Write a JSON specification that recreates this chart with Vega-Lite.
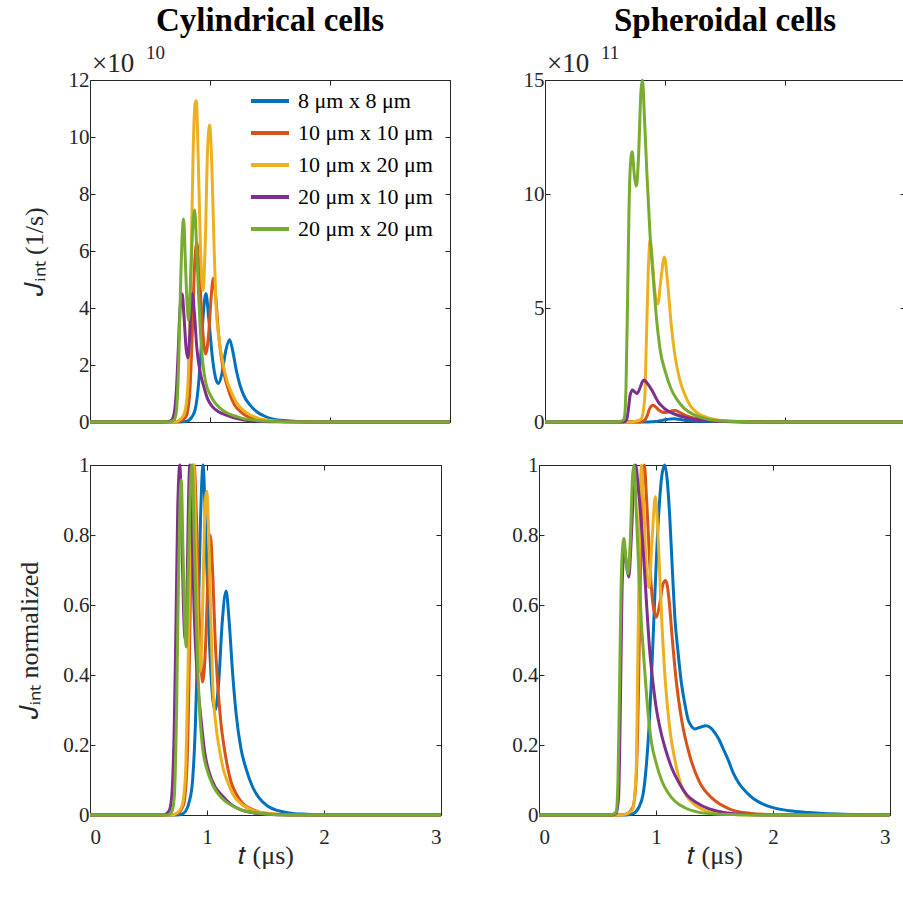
{
  "$schema": "https://vega.github.io/schema/vega-lite/v6.json",
  "padding": {"left": 16, "top": 4, "right": 0, "bottom": 0},
  "background": "white",
  "config": {
    "font": "Liberation Serif",
    "style": {"guide-label": {"font": "Liberation Serif"}, "guide-title": {"font": "Liberation Serif"}},
    "view": {"stroke": "#262626", "strokeWidth": 1},
    "axis": {"labelFont": "Liberation Serif", "labelFontSize": 21, "labelColor": "#262626", "titleFont": "Liberation Serif", "titleFontSize": 26, "titleFontWeight": "normal", "titleColor": "#262626", "grid": false, "domain": false, "tickColor": "#262626", "tickSize": -5, "labelPadding": 6, "titlePadding": 13},
    "axisX": {"labelPadding": 16, "titlePadding": -5},
    "legend": {"orient": "none", "legendX": 159, "legendY": 0, "title": null, "symbolType": "stroke", "symbolStrokeWidth": 4, "symbolSize": 1444, "labelFont": "Liberation Serif", "labelFontSize": 22, "labelColor": "#000000", "rowPadding": -3, "labelOffset": 7, "padding": 0, "labelLimit": 300},
    "title": {"font": "Liberation Serif", "fontSize": 33, "fontWeight": "bold", "color": "#000000", "anchor": "middle", "offset": 6}
  },
  "datasets": {
    "cylAbs": [
      {"s":1,"t":0,"v":0},{"s":1,"t":0.75,"v":0},{"s":1,"t":0.8,"v":0.023},{"s":1,"t":0.85,"v":0.18},{"s":1,"t":0.877,"v":0.45},{"s":1,"t":0.9,"v":1.13},{"s":1,"t":0.92,"v":2.16},{"s":1,"t":0.945,"v":3.83},{"s":1,"t":0.966,"v":4.51},{"s":1,"t":0.99,"v":3.61},{"s":1,"t":1.02,"v":2.26},{"s":1,"t":1.05,"v":1.49},{"s":1,"t":1.07,"v":1.35},{"s":1,"t":1.1,"v":1.71},{"s":1,"t":1.13,"v":2.48},{"s":1,"t":1.163,"v":2.89},{"s":1,"t":1.19,"v":2.48},{"s":1,"t":1.22,"v":1.8},{"s":1,"t":1.25,"v":1.29},{"s":1,"t":1.29,"v":0.86},{"s":1,"t":1.333,"v":0.6},{"s":1,"t":1.39,"v":0.36},{"s":1,"t":1.447,"v":0.22},{"s":1,"t":1.52,"v":0.11},{"s":1,"t":1.6,"v":0.059},{"s":1,"t":1.7,"v":0.027},{"s":1,"t":1.85,"v":0.009},{"s":1,"t":2.0,"v":0},{"s":1,"t":3,"v":0},
      {"s":2,"t":0,"v":0},{"s":2,"t":0.7,"v":0},{"s":2,"t":0.75,"v":0.03},{"s":2,"t":0.8,"v":0.19},{"s":2,"t":0.83,"v":0.95},{"s":2,"t":0.85,"v":2.84},{"s":2,"t":0.87,"v":5.36},{"s":2,"t":0.89,"v":6.3},{"s":2,"t":0.91,"v":5.36},{"s":2,"t":0.935,"v":3.47},{"s":2,"t":0.963,"v":2.39},{"s":2,"t":0.99,"v":3.15},{"s":2,"t":1.01,"v":4.41},{"s":2,"t":1.028,"v":5.04},{"s":2,"t":1.05,"v":4.28},{"s":2,"t":1.07,"v":3.15},{"s":2,"t":1.09,"v":2.39},{"s":2,"t":1.12,"v":1.64},{"s":2,"t":1.148,"v":1.2},{"s":2,"t":1.18,"v":0.82},{"s":2,"t":1.205,"v":0.6},{"s":2,"t":1.25,"v":0.38},{"s":2,"t":1.3,"v":0.22},{"s":2,"t":1.4,"v":0.088},{"s":2,"t":1.5,"v":0.032},{"s":2,"t":1.7,"v":0.006},{"s":2,"t":2.0,"v":0},{"s":2,"t":3,"v":0},
      {"s":3,"t":0,"v":0},{"s":3,"t":0.7,"v":0},{"s":3,"t":0.74,"v":0.056},{"s":3,"t":0.78,"v":0.23},{"s":3,"t":0.8,"v":0.56},{"s":3,"t":0.82,"v":1.69},{"s":3,"t":0.84,"v":5.07},{"s":3,"t":0.86,"v":9.58},{"s":3,"t":0.875,"v":11.16},{"s":3,"t":0.886,"v":11.27},{"s":3,"t":0.9,"v":9.58},{"s":3,"t":0.92,"v":6.2},{"s":3,"t":0.942,"v":4.62},{"s":3,"t":0.96,"v":6.2},{"s":3,"t":0.98,"v":9.58},{"s":3,"t":0.997,"v":10.42},{"s":3,"t":1.015,"v":9.02},{"s":3,"t":1.03,"v":6.76},{"s":3,"t":1.048,"v":4.28},{"s":3,"t":1.075,"v":2.93},{"s":3,"t":1.105,"v":2.14},{"s":3,"t":1.14,"v":1.47},{"s":3,"t":1.176,"v":1.07},{"s":3,"t":1.22,"v":0.68},{"s":3,"t":1.3,"v":0.34},{"s":3,"t":1.4,"v":0.135},{"s":3,"t":1.5,"v":0.056},{"s":3,"t":1.7,"v":0.011},{"s":3,"t":2.0,"v":0},{"s":3,"t":3,"v":0},
      {"s":4,"t":0,"v":0},{"s":4,"t":0.62,"v":0},{"s":4,"t":0.65,"v":0.014},{"s":4,"t":0.68,"v":0.068},{"s":4,"t":0.7,"v":0.27},{"s":4,"t":0.72,"v":1.13},{"s":4,"t":0.735,"v":2.48},{"s":4,"t":0.75,"v":3.96},{"s":4,"t":0.768,"v":4.5},{"s":4,"t":0.785,"v":3.6},{"s":4,"t":0.8,"v":2.61},{"s":4,"t":0.815,"v":2.25},{"s":4,"t":0.83,"v":2.93},{"s":4,"t":0.842,"v":4.05},{"s":4,"t":0.853,"v":4.5},{"s":4,"t":0.87,"v":3.83},{"s":4,"t":0.89,"v":2.61},{"s":4,"t":0.92,"v":1.71},{"s":4,"t":0.95,"v":1.22},{"s":4,"t":0.98,"v":0.81},{"s":4,"t":1.02,"v":0.54},{"s":4,"t":1.07,"v":0.36},{"s":4,"t":1.13,"v":0.25},{"s":4,"t":1.2,"v":0.144},{"s":4,"t":1.28,"v":0.072},{"s":4,"t":1.4,"v":0.027},{"s":4,"t":1.6,"v":0.005},{"s":4,"t":1.8,"v":0},{"s":4,"t":3,"v":0},
      {"s":5,"t":0,"v":0},{"s":5,"t":0.66,"v":0},{"s":5,"t":0.7,"v":0.074},{"s":5,"t":0.72,"v":0.37},{"s":5,"t":0.74,"v":2.23},{"s":5,"t":0.755,"v":4.84},{"s":5,"t":0.77,"v":6.7},{"s":5,"t":0.78,"v":7.12},{"s":5,"t":0.795,"v":5.58},{"s":5,"t":0.81,"v":4.09},{"s":5,"t":0.822,"v":3.57},{"s":5,"t":0.84,"v":5.21},{"s":5,"t":0.86,"v":7.14},{"s":5,"t":0.872,"v":7.44},{"s":5,"t":0.89,"v":5.95},{"s":5,"t":0.905,"v":4.46},{"s":5,"t":0.92,"v":3.2},{"s":5,"t":0.94,"v":2.08},{"s":5,"t":0.963,"v":1.41},{"s":5,"t":1.0,"v":0.97},{"s":5,"t":1.05,"v":0.63},{"s":5,"t":1.1,"v":0.43},{"s":5,"t":1.16,"v":0.28},{"s":5,"t":1.23,"v":0.18},{"s":5,"t":1.3,"v":0.1},{"s":5,"t":1.4,"v":0.052},{"s":5,"t":1.5,"v":0.022},{"s":5,"t":1.7,"v":0},{"s":5,"t":3,"v":0}
    ],
    "sphAbs": [
      {"s":1,"t":0,"v":0},{"s":1,"t":0.8,"v":0},{"s":1,"t":0.85,"v":0.003},{"s":1,"t":0.89,"v":0.008},{"s":1,"t":0.917,"v":0.02},{"s":1,"t":0.94,"v":0.035},{"s":1,"t":0.96,"v":0.053},{"s":1,"t":0.989,"v":0.087},{"s":1,"t":1.01,"v":0.109},{"s":1,"t":1.031,"v":0.126},{"s":1,"t":1.05,"v":0.136},{"s":1,"t":1.074,"v":0.14},{"s":1,"t":1.095,"v":0.134},{"s":1,"t":1.117,"v":0.12},{"s":1,"t":1.14,"v":0.098},{"s":1,"t":1.16,"v":0.08},{"s":1,"t":1.19,"v":0.064},{"s":1,"t":1.216,"v":0.053},{"s":1,"t":1.273,"v":0.038},{"s":1,"t":1.33,"v":0.034},{"s":1,"t":1.43,"v":0.036},{"s":1,"t":1.5,"v":0.033},{"s":1,"t":1.573,"v":0.027},{"s":1,"t":1.658,"v":0.017},{"s":1,"t":1.772,"v":0.009},{"s":1,"t":1.915,"v":0.004},{"s":1,"t":2.142,"v":0.002},{"s":1,"t":2.5,"v":0},{"s":1,"t":3,"v":0},
      {"s":2,"t":0,"v":0},{"s":2,"t":0.7,"v":0},{"s":2,"t":0.75,"v":0.002},{"s":2,"t":0.8,"v":0.015},{"s":2,"t":0.83,"v":0.074},{"s":2,"t":0.85,"v":0.26},{"s":2,"t":0.87,"v":0.56},{"s":2,"t":0.89,"v":0.72},{"s":2,"t":0.9,"v":0.74},{"s":2,"t":0.92,"v":0.67},{"s":2,"t":0.95,"v":0.52},{"s":2,"t":0.975,"v":0.44},{"s":2,"t":1.003,"v":0.42},{"s":2,"t":1.03,"v":0.44},{"s":2,"t":1.06,"v":0.49},{"s":2,"t":1.083,"v":0.5},{"s":2,"t":1.11,"v":0.46},{"s":2,"t":1.14,"v":0.37},{"s":2,"t":1.174,"v":0.28},{"s":2,"t":1.22,"v":0.2},{"s":2,"t":1.288,"v":0.126},{"s":2,"t":1.373,"v":0.069},{"s":2,"t":1.487,"v":0.034},{"s":2,"t":1.63,"v":0.013},{"s":2,"t":1.8,"v":0.004},{"s":2,"t":2.0,"v":0},{"s":2,"t":3,"v":0},
      {"s":3,"t":0,"v":0},{"s":3,"t":0.7,"v":0},{"s":3,"t":0.75,"v":0.024},{"s":3,"t":0.8,"v":0.12},{"s":3,"t":0.83,"v":0.96},{"s":3,"t":0.845,"v":3.58},{"s":3,"t":0.86,"v":6.53},{"s":3,"t":0.875,"v":7.96},{"s":3,"t":0.89,"v":7.4},{"s":3,"t":0.915,"v":5.73},{"s":3,"t":0.94,"v":5.17},{"s":3,"t":0.965,"v":6.21},{"s":3,"t":0.995,"v":7.24},{"s":3,"t":1.02,"v":6.21},{"s":3,"t":1.05,"v":4.38},{"s":3,"t":1.08,"v":3.02},{"s":3,"t":1.12,"v":1.91},{"s":3,"t":1.16,"v":1.27},{"s":3,"t":1.21,"v":0.72},{"s":3,"t":1.27,"v":0.4},{"s":3,"t":1.33,"v":0.24},{"s":3,"t":1.45,"v":0.08},{"s":3,"t":1.6,"v":0.024},{"s":3,"t":1.8,"v":0},{"s":3,"t":3,"v":0},
      {"s":4,"t":0,"v":0},{"s":4,"t":0.62,"v":0},{"s":4,"t":0.66,"v":0.009},{"s":4,"t":0.68,"v":0.092},{"s":4,"t":0.695,"v":0.55},{"s":4,"t":0.71,"v":1.2},{"s":4,"t":0.73,"v":1.4},{"s":4,"t":0.75,"v":1.31},{"s":4,"t":0.767,"v":1.25},{"s":4,"t":0.79,"v":1.47},{"s":4,"t":0.81,"v":1.75},{"s":4,"t":0.826,"v":1.84},{"s":4,"t":0.85,"v":1.71},{"s":4,"t":0.89,"v":1.4},{"s":4,"t":0.92,"v":1.1},{"s":4,"t":0.946,"v":0.86},{"s":4,"t":0.97,"v":0.72},{"s":4,"t":1.0,"v":0.57},{"s":4,"t":1.04,"v":0.44},{"s":4,"t":1.088,"v":0.33},{"s":4,"t":1.14,"v":0.24},{"s":4,"t":1.2,"v":0.166},{"s":4,"t":1.27,"v":0.1},{"s":4,"t":1.345,"v":0.066},{"s":4,"t":1.45,"v":0.033},{"s":4,"t":1.57,"v":0.015},{"s":4,"t":1.75,"v":0.004},{"s":4,"t":2.0,"v":0},{"s":4,"t":3,"v":0},
      {"s":5,"t":0,"v":0},{"s":5,"t":0.6,"v":0},{"s":5,"t":0.64,"v":0.045},{"s":5,"t":0.66,"v":0.15},{"s":5,"t":0.675,"v":1.5},{"s":5,"t":0.69,"v":6.0},{"s":5,"t":0.7,"v":9.3},{"s":5,"t":0.71,"v":11.1},{"s":5,"t":0.726,"v":11.85},{"s":5,"t":0.745,"v":10.8},{"s":5,"t":0.762,"v":10.35},{"s":5,"t":0.78,"v":11.7},{"s":5,"t":0.8,"v":14.55},{"s":5,"t":0.812,"v":15.0},{"s":5,"t":0.83,"v":13.2},{"s":5,"t":0.85,"v":10.8},{"s":5,"t":0.875,"v":8.25},{"s":5,"t":0.9,"v":6.45},{"s":5,"t":0.93,"v":4.5},{"s":5,"t":0.96,"v":3.15},{"s":5,"t":1.0,"v":2.25},{"s":5,"t":1.05,"v":1.46},{"s":5,"t":1.1,"v":0.98},{"s":5,"t":1.16,"v":0.6},{"s":5,"t":1.25,"v":0.3},{"s":5,"t":1.35,"v":0.135},{"s":5,"t":1.5,"v":0.045},{"s":5,"t":1.7,"v":0.015},{"s":5,"t":2.0,"v":0},{"s":5,"t":3,"v":0}
    ],
    "cylNorm": [
      {"s":1,"t":0,"v":0},{"s":1,"t":0.75,"v":0},{"s":1,"t":0.8,"v":0.005},{"s":1,"t":0.85,"v":0.04},{"s":1,"t":0.877,"v":0.1},{"s":1,"t":0.9,"v":0.25},{"s":1,"t":0.92,"v":0.48},{"s":1,"t":0.945,"v":0.85},{"s":1,"t":0.966,"v":1.0},{"s":1,"t":0.99,"v":0.8},{"s":1,"t":1.02,"v":0.5},{"s":1,"t":1.05,"v":0.33},{"s":1,"t":1.07,"v":0.3},{"s":1,"t":1.1,"v":0.38},{"s":1,"t":1.13,"v":0.55},{"s":1,"t":1.163,"v":0.64},{"s":1,"t":1.19,"v":0.55},{"s":1,"t":1.22,"v":0.4},{"s":1,"t":1.25,"v":0.286},{"s":1,"t":1.29,"v":0.19},{"s":1,"t":1.333,"v":0.133},{"s":1,"t":1.39,"v":0.08},{"s":1,"t":1.447,"v":0.048},{"s":1,"t":1.52,"v":0.025},{"s":1,"t":1.6,"v":0.013},{"s":1,"t":1.7,"v":0.006},{"s":1,"t":1.85,"v":0.002},{"s":1,"t":2.0,"v":0},{"s":1,"t":3,"v":0},
      {"s":2,"t":0,"v":0},{"s":2,"t":0.7,"v":0},{"s":2,"t":0.75,"v":0.005},{"s":2,"t":0.8,"v":0.03},{"s":2,"t":0.83,"v":0.15},{"s":2,"t":0.85,"v":0.45},{"s":2,"t":0.87,"v":0.85},{"s":2,"t":0.89,"v":1.0},{"s":2,"t":0.91,"v":0.85},{"s":2,"t":0.935,"v":0.55},{"s":2,"t":0.963,"v":0.38},{"s":2,"t":0.99,"v":0.5},{"s":2,"t":1.01,"v":0.7},{"s":2,"t":1.028,"v":0.8},{"s":2,"t":1.05,"v":0.68},{"s":2,"t":1.07,"v":0.5},{"s":2,"t":1.09,"v":0.38},{"s":2,"t":1.12,"v":0.26},{"s":2,"t":1.148,"v":0.19},{"s":2,"t":1.18,"v":0.13},{"s":2,"t":1.205,"v":0.095},{"s":2,"t":1.25,"v":0.06},{"s":2,"t":1.3,"v":0.035},{"s":2,"t":1.4,"v":0.014},{"s":2,"t":1.5,"v":0.005},{"s":2,"t":1.7,"v":0.001},{"s":2,"t":2.0,"v":0},{"s":2,"t":3,"v":0},
      {"s":3,"t":0,"v":0},{"s":3,"t":0.7,"v":0},{"s":3,"t":0.74,"v":0.005},{"s":3,"t":0.78,"v":0.02},{"s":3,"t":0.8,"v":0.05},{"s":3,"t":0.82,"v":0.15},{"s":3,"t":0.84,"v":0.45},{"s":3,"t":0.86,"v":0.85},{"s":3,"t":0.875,"v":0.99},{"s":3,"t":0.886,"v":1.0},{"s":3,"t":0.9,"v":0.85},{"s":3,"t":0.92,"v":0.55},{"s":3,"t":0.942,"v":0.41},{"s":3,"t":0.96,"v":0.55},{"s":3,"t":0.98,"v":0.85},{"s":3,"t":0.997,"v":0.925},{"s":3,"t":1.015,"v":0.8},{"s":3,"t":1.03,"v":0.6},{"s":3,"t":1.048,"v":0.38},{"s":3,"t":1.075,"v":0.26},{"s":3,"t":1.105,"v":0.19},{"s":3,"t":1.14,"v":0.13},{"s":3,"t":1.176,"v":0.095},{"s":3,"t":1.22,"v":0.06},{"s":3,"t":1.3,"v":0.03},{"s":3,"t":1.4,"v":0.012},{"s":3,"t":1.5,"v":0.005},{"s":3,"t":1.7,"v":0.001},{"s":3,"t":2.0,"v":0},{"s":3,"t":3,"v":0},
      {"s":4,"t":0,"v":0},{"s":4,"t":0.62,"v":0},{"s":4,"t":0.65,"v":0.003},{"s":4,"t":0.68,"v":0.015},{"s":4,"t":0.7,"v":0.06},{"s":4,"t":0.72,"v":0.25},{"s":4,"t":0.735,"v":0.55},{"s":4,"t":0.75,"v":0.88},{"s":4,"t":0.768,"v":1.0},{"s":4,"t":0.785,"v":0.8},{"s":4,"t":0.8,"v":0.58},{"s":4,"t":0.815,"v":0.5},{"s":4,"t":0.83,"v":0.65},{"s":4,"t":0.842,"v":0.9},{"s":4,"t":0.853,"v":1.0},{"s":4,"t":0.87,"v":0.85},{"s":4,"t":0.89,"v":0.58},{"s":4,"t":0.92,"v":0.38},{"s":4,"t":0.95,"v":0.27},{"s":4,"t":0.98,"v":0.18},{"s":4,"t":1.02,"v":0.12},{"s":4,"t":1.07,"v":0.08},{"s":4,"t":1.13,"v":0.055},{"s":4,"t":1.2,"v":0.032},{"s":4,"t":1.28,"v":0.016},{"s":4,"t":1.4,"v":0.006},{"s":4,"t":1.6,"v":0.001},{"s":4,"t":1.8,"v":0},{"s":4,"t":3,"v":0},
      {"s":5,"t":0,"v":0},{"s":5,"t":0.66,"v":0},{"s":5,"t":0.7,"v":0.01},{"s":5,"t":0.72,"v":0.05},{"s":5,"t":0.74,"v":0.3},{"s":5,"t":0.755,"v":0.65},{"s":5,"t":0.77,"v":0.9},{"s":5,"t":0.78,"v":0.957},{"s":5,"t":0.795,"v":0.75},{"s":5,"t":0.81,"v":0.55},{"s":5,"t":0.822,"v":0.48},{"s":5,"t":0.84,"v":0.7},{"s":5,"t":0.86,"v":0.96},{"s":5,"t":0.872,"v":1.0},{"s":5,"t":0.89,"v":0.8},{"s":5,"t":0.905,"v":0.6},{"s":5,"t":0.92,"v":0.43},{"s":5,"t":0.94,"v":0.28},{"s":5,"t":0.963,"v":0.19},{"s":5,"t":1.0,"v":0.13},{"s":5,"t":1.05,"v":0.085},{"s":5,"t":1.1,"v":0.058},{"s":5,"t":1.16,"v":0.038},{"s":5,"t":1.23,"v":0.024},{"s":5,"t":1.3,"v":0.014},{"s":5,"t":1.4,"v":0.007},{"s":5,"t":1.5,"v":0.003},{"s":5,"t":1.7,"v":0},{"s":5,"t":3,"v":0}
    ],
    "sphNorm": [
      {"s":1,"t":0,"v":0},{"s":1,"t":0.75,"v":0},{"s":1,"t":0.8,"v":0.003},{"s":1,"t":0.85,"v":0.02},{"s":1,"t":0.89,"v":0.06},{"s":1,"t":0.917,"v":0.14},{"s":1,"t":0.94,"v":0.25},{"s":1,"t":0.96,"v":0.38},{"s":1,"t":0.989,"v":0.62},{"s":1,"t":1.01,"v":0.78},{"s":1,"t":1.031,"v":0.9},{"s":1,"t":1.05,"v":0.97},{"s":1,"t":1.074,"v":1.0},{"s":1,"t":1.095,"v":0.96},{"s":1,"t":1.117,"v":0.855},{"s":1,"t":1.14,"v":0.7},{"s":1,"t":1.16,"v":0.57},{"s":1,"t":1.19,"v":0.46},{"s":1,"t":1.216,"v":0.38},{"s":1,"t":1.245,"v":0.32},{"s":1,"t":1.273,"v":0.274},{"s":1,"t":1.3,"v":0.255},{"s":1,"t":1.33,"v":0.246},{"s":1,"t":1.37,"v":0.25},{"s":1,"t":1.43,"v":0.255},{"s":1,"t":1.47,"v":0.248},{"s":1,"t":1.5,"v":0.236},{"s":1,"t":1.54,"v":0.215},{"s":1,"t":1.573,"v":0.19},{"s":1,"t":1.62,"v":0.155},{"s":1,"t":1.658,"v":0.122},{"s":1,"t":1.71,"v":0.09},{"s":1,"t":1.772,"v":0.065},{"s":1,"t":1.84,"v":0.045},{"s":1,"t":1.915,"v":0.031},{"s":1,"t":2.0,"v":0.021},{"s":1,"t":2.142,"v":0.012},{"s":1,"t":2.3,"v":0.007},{"s":1,"t":2.43,"v":0.004},{"s":1,"t":2.6,"v":0.002},{"s":1,"t":2.8,"v":0.001},{"s":1,"t":3,"v":0.0005},
      {"s":2,"t":0,"v":0},{"s":2,"t":0.7,"v":0},{"s":2,"t":0.75,"v":0.003},{"s":2,"t":0.8,"v":0.02},{"s":2,"t":0.83,"v":0.1},{"s":2,"t":0.85,"v":0.35},{"s":2,"t":0.87,"v":0.75},{"s":2,"t":0.89,"v":0.97},{"s":2,"t":0.9,"v":1.0},{"s":2,"t":0.92,"v":0.9},{"s":2,"t":0.95,"v":0.7},{"s":2,"t":0.975,"v":0.6},{"s":2,"t":1.003,"v":0.565},{"s":2,"t":1.03,"v":0.6},{"s":2,"t":1.06,"v":0.66},{"s":2,"t":1.083,"v":0.67},{"s":2,"t":1.11,"v":0.62},{"s":2,"t":1.14,"v":0.5},{"s":2,"t":1.174,"v":0.38},{"s":2,"t":1.22,"v":0.27},{"s":2,"t":1.288,"v":0.17},{"s":2,"t":1.373,"v":0.093},{"s":2,"t":1.487,"v":0.046},{"s":2,"t":1.63,"v":0.017},{"s":2,"t":1.8,"v":0.005},{"s":2,"t":2.0,"v":0.001},{"s":2,"t":2.3,"v":0},{"s":2,"t":3,"v":0},
      {"s":3,"t":0,"v":0},{"s":3,"t":0.7,"v":0},{"s":3,"t":0.75,"v":0.003},{"s":3,"t":0.8,"v":0.015},{"s":3,"t":0.83,"v":0.12},{"s":3,"t":0.845,"v":0.45},{"s":3,"t":0.86,"v":0.82},{"s":3,"t":0.875,"v":1.0},{"s":3,"t":0.89,"v":0.93},{"s":3,"t":0.915,"v":0.72},{"s":3,"t":0.94,"v":0.65},{"s":3,"t":0.965,"v":0.78},{"s":3,"t":0.995,"v":0.91},{"s":3,"t":1.02,"v":0.78},{"s":3,"t":1.05,"v":0.55},{"s":3,"t":1.08,"v":0.38},{"s":3,"t":1.12,"v":0.24},{"s":3,"t":1.16,"v":0.16},{"s":3,"t":1.21,"v":0.09},{"s":3,"t":1.27,"v":0.05},{"s":3,"t":1.33,"v":0.03},{"s":3,"t":1.45,"v":0.01},{"s":3,"t":1.6,"v":0.003},{"s":3,"t":1.8,"v":0},{"s":3,"t":3,"v":0},
      {"s":4,"t":0,"v":0},{"s":4,"t":0.62,"v":0},{"s":4,"t":0.66,"v":0.005},{"s":4,"t":0.68,"v":0.05},{"s":4,"t":0.695,"v":0.3},{"s":4,"t":0.71,"v":0.65},{"s":4,"t":0.73,"v":0.76},{"s":4,"t":0.75,"v":0.71},{"s":4,"t":0.767,"v":0.68},{"s":4,"t":0.79,"v":0.8},{"s":4,"t":0.81,"v":0.95},{"s":4,"t":0.826,"v":1.0},{"s":4,"t":0.85,"v":0.93},{"s":4,"t":0.89,"v":0.76},{"s":4,"t":0.92,"v":0.6},{"s":4,"t":0.946,"v":0.47},{"s":4,"t":0.97,"v":0.39},{"s":4,"t":1.0,"v":0.31},{"s":4,"t":1.04,"v":0.24},{"s":4,"t":1.088,"v":0.18},{"s":4,"t":1.14,"v":0.13},{"s":4,"t":1.2,"v":0.09},{"s":4,"t":1.27,"v":0.055},{"s":4,"t":1.345,"v":0.036},{"s":4,"t":1.45,"v":0.018},{"s":4,"t":1.57,"v":0.008},{"s":4,"t":1.75,"v":0.002},{"s":4,"t":2.0,"v":0},{"s":4,"t":3,"v":0},
      {"s":5,"t":0,"v":0},{"s":5,"t":0.6,"v":0},{"s":5,"t":0.64,"v":0.003},{"s":5,"t":0.66,"v":0.01},{"s":5,"t":0.675,"v":0.1},{"s":5,"t":0.69,"v":0.4},{"s":5,"t":0.7,"v":0.62},{"s":5,"t":0.71,"v":0.74},{"s":5,"t":0.726,"v":0.79},{"s":5,"t":0.745,"v":0.72},{"s":5,"t":0.762,"v":0.69},{"s":5,"t":0.78,"v":0.78},{"s":5,"t":0.8,"v":0.97},{"s":5,"t":0.812,"v":1.0},{"s":5,"t":0.83,"v":0.88},{"s":5,"t":0.85,"v":0.72},{"s":5,"t":0.875,"v":0.55},{"s":5,"t":0.9,"v":0.43},{"s":5,"t":0.93,"v":0.3},{"s":5,"t":0.96,"v":0.21},{"s":5,"t":1.0,"v":0.15},{"s":5,"t":1.05,"v":0.097},{"s":5,"t":1.1,"v":0.065},{"s":5,"t":1.16,"v":0.04},{"s":5,"t":1.25,"v":0.02},{"s":5,"t":1.35,"v":0.009},{"s":5,"t":1.5,"v":0.003},{"s":5,"t":1.7,"v":0.001},{"s":5,"t":2.0,"v":0},{"s":5,"t":3,"v":0}
    ]
  },
  "vconcat": [
    {
      "hconcat": [
        {
          "width": 360, "height": 342,
          "title": {"text": "Cylindrical cells"},
          "layer": [
            {
              "data": {"name": "cylAbs"},
              "mark": {"type": "line", "interpolate": "monotone", "strokeWidth": 3},
              "encoding": {
                "x": {"field": "t", "type": "quantitative", "scale": {"domain": [0, 3], "nice": false}, "axis": {"orient": "bottom", "values": [0, 1, 2, 3], "labels": false, "title": null}},
                "y": {"field": "v", "type": "quantitative", "scale": {"domain": [0, 12], "nice": false}, "axis": {"orient": "left", "values": [0, 2, 4, 6, 8, 10, 12], "title": "𝐽ᵢₙₜ (1/s)", "titlePadding": 21}},
                "color": {"field": "s", "type": "nominal", "scale": {"domain": [1, 2, 3, 4, 5], "range": ["#0072BD", "#D95319", "#EDB120", "#7E2F8E", "#77AC30"]}, "legend": {"labelExpr": "['', '\u20078 μm x 8 μm', '10 μm x 10 μm', '10 μm x 20 μm', '20 μm x 10 μm', '20 μm x 20 μm'][datum.value]"}}
              }
            },
            {
              "data": {"name": "cylAbs"},
              "mark": {"type": "line", "strokeOpacity": 0},
              "encoding": {
                "x": {"field": "t", "type": "quantitative", "scale": {"domain": [0, 3], "nice": false}, "axis": {"orient": "top", "values": [0, 1, 2, 3], "labels": false, "title": null}},
                "y": {"field": "v", "type": "quantitative", "scale": {"domain": [0, 12], "nice": false}, "axis": {"orient": "right", "values": [0, 2, 4, 6, 8, 10, 12], "labels": false, "title": null}},
                "detail": {"field": "s", "type": "nominal"}
              }
            },
            {
              "data": {"values": [{}]},
              "mark": {"type": "text", "text": "×10", "align": "left", "baseline": "alphabetic", "fontSize": 27, "dx": 2, "dy": -8, "color": "#262626"},
              "encoding": {"x": {"datum": 0, "type": "quantitative", "axis": null}, "y": {"datum": 12, "type": "quantitative", "axis": null}}
            },
            {
              "data": {"values": [{}]},
              "mark": {"type": "text", "text": "10", "align": "left", "baseline": "alphabetic", "fontSize": 19, "dx": 56, "dy": -21, "color": "#262626"},
              "encoding": {"x": {"datum": 0, "type": "quantitative", "axis": null}, "y": {"datum": 12, "type": "quantitative", "axis": null}}
            }
          ],
          "resolve": {"axis": {"x": "independent", "y": "independent"}}
        },
        {
          "width": 360, "height": 342,
          "title": {"text": "Spheroidal cells"},
          "layer": [
            {
              "data": {"name": "sphAbs"},
              "mark": {"type": "line", "interpolate": "monotone", "strokeWidth": 3},
              "encoding": {
                "x": {"field": "t", "type": "quantitative", "scale": {"domain": [0, 3], "nice": false}, "axis": {"orient": "bottom", "values": [0, 1, 2, 3], "labels": false, "title": null}},
                "y": {"field": "v", "type": "quantitative", "scale": {"domain": [0, 15], "nice": false}, "axis": {"orient": "left", "values": [0, 5, 10, 15], "title": null}},
                "color": {"field": "s", "type": "nominal", "scale": {"domain": [1, 2, 3, 4, 5], "range": ["#0072BD", "#D95319", "#EDB120", "#7E2F8E", "#77AC30"]}, "legend": null}
              }
            },
            {
              "data": {"name": "sphAbs"},
              "mark": {"type": "line", "strokeOpacity": 0},
              "encoding": {
                "x": {"field": "t", "type": "quantitative", "scale": {"domain": [0, 3], "nice": false}, "axis": {"orient": "top", "values": [0, 1, 2, 3], "labels": false, "title": null}},
                "y": {"field": "v", "type": "quantitative", "scale": {"domain": [0, 15], "nice": false}, "axis": {"orient": "right", "values": [0, 5, 10, 15], "labels": false, "title": null}},
                "detail": {"field": "s", "type": "nominal"}
              }
            },
            {
              "data": {"values": [{}]},
              "mark": {"type": "text", "text": "×10", "align": "left", "baseline": "alphabetic", "fontSize": 27, "dx": 2, "dy": -8, "color": "#262626"},
              "encoding": {"x": {"datum": 0, "type": "quantitative", "axis": null}, "y": {"datum": 15, "type": "quantitative", "axis": null}}
            },
            {
              "data": {"values": [{}]},
              "mark": {"type": "text", "text": "11", "align": "left", "baseline": "alphabetic", "fontSize": 19, "dx": 56, "dy": -21, "color": "#262626"},
              "encoding": {"x": {"datum": 0, "type": "quantitative", "axis": null}, "y": {"datum": 15, "type": "quantitative", "axis": null}}
            }
          ],
          "resolve": {"axis": {"x": "independent", "y": "independent"}}
        }
      ],
      "spacing": 65,
      "resolve": {"scale": {"color": "independent"}, "legend": {"color": "independent"}}
    },
    {
      "hconcat": [
        {
          "width": 351, "height": 350,
          "layer": [
            {
              "data": {"name": "cylNorm"},
              "mark": {"type": "line", "interpolate": "monotone", "strokeWidth": 3},
              "encoding": {
                "x": {"field": "t", "type": "quantitative", "scale": {"domain": [0, 3], "nice": false}, "axis": {"orient": "bottom", "values": [0, 1, 2, 3], "title": "𝑡 (μs)"}},
                "y": {"field": "v", "type": "quantitative", "scale": {"domain": [0, 1], "nice": false}, "axis": {"orient": "left", "values": [0, 0.2, 0.4, 0.6, 0.8, 1], "format": "~g", "title": "𝐽ᵢₙₜ normalized", "titlePadding": 20}},
                "color": {"field": "s", "type": "nominal", "scale": {"domain": [1, 2, 3, 4, 5], "range": ["#0072BD", "#D95319", "#EDB120", "#7E2F8E", "#77AC30"]}, "legend": null}
              }
            },
            {
              "data": {"name": "cylNorm"},
              "mark": {"type": "line", "strokeOpacity": 0},
              "encoding": {
                "x": {"field": "t", "type": "quantitative", "scale": {"domain": [0, 3], "nice": false}, "axis": {"orient": "top", "values": [0, 1, 2, 3], "labels": false, "title": null}},
                "y": {"field": "v", "type": "quantitative", "scale": {"domain": [0, 1], "nice": false}, "axis": {"orient": "right", "values": [0, 0.2, 0.4, 0.6, 0.8, 1], "labels": false, "title": null}},
                "detail": {"field": "s", "type": "nominal"}
              }
            }
          ],
          "resolve": {"axis": {"x": "independent", "y": "independent"}}
        },
        {
          "width": 351, "height": 350,
          "layer": [
            {
              "data": {"name": "sphNorm"},
              "mark": {"type": "line", "interpolate": "monotone", "strokeWidth": 3},
              "encoding": {
                "x": {"field": "t", "type": "quantitative", "scale": {"domain": [0, 3], "nice": false}, "axis": {"orient": "bottom", "values": [0, 1, 2, 3], "title": "𝑡 (μs)"}},
                "y": {"field": "v", "type": "quantitative", "scale": {"domain": [0, 1], "nice": false}, "axis": {"orient": "left", "values": [0, 0.2, 0.4, 0.6, 0.8, 1], "format": "~g", "title": null}},
                "color": {"field": "s", "type": "nominal", "scale": {"domain": [1, 2, 3, 4, 5], "range": ["#0072BD", "#D95319", "#EDB120", "#7E2F8E", "#77AC30"]}, "legend": null}
              }
            },
            {
              "data": {"name": "sphNorm"},
              "mark": {"type": "line", "strokeOpacity": 0},
              "encoding": {
                "x": {"field": "t", "type": "quantitative", "scale": {"domain": [0, 3], "nice": false}, "axis": {"orient": "top", "values": [0, 1, 2, 3], "labels": false, "title": null}},
                "y": {"field": "v", "type": "quantitative", "scale": {"domain": [0, 1], "nice": false}, "axis": {"orient": "right", "values": [0, 0.2, 0.4, 0.6, 0.8, 1], "labels": false, "title": null}},
                "detail": {"field": "s", "type": "nominal"}
              }
            }
          ],
          "resolve": {"axis": {"x": "independent", "y": "independent"}}
        }
      ],
      "spacing": 63,
      "resolve": {"scale": {"color": "independent"}, "legend": {"color": "independent"}}
    }
  ],
  "spacing": 20,
  "align": "none",
  "resolve": {"scale": {"color": "independent"}, "legend": {"color": "independent"}}
}
